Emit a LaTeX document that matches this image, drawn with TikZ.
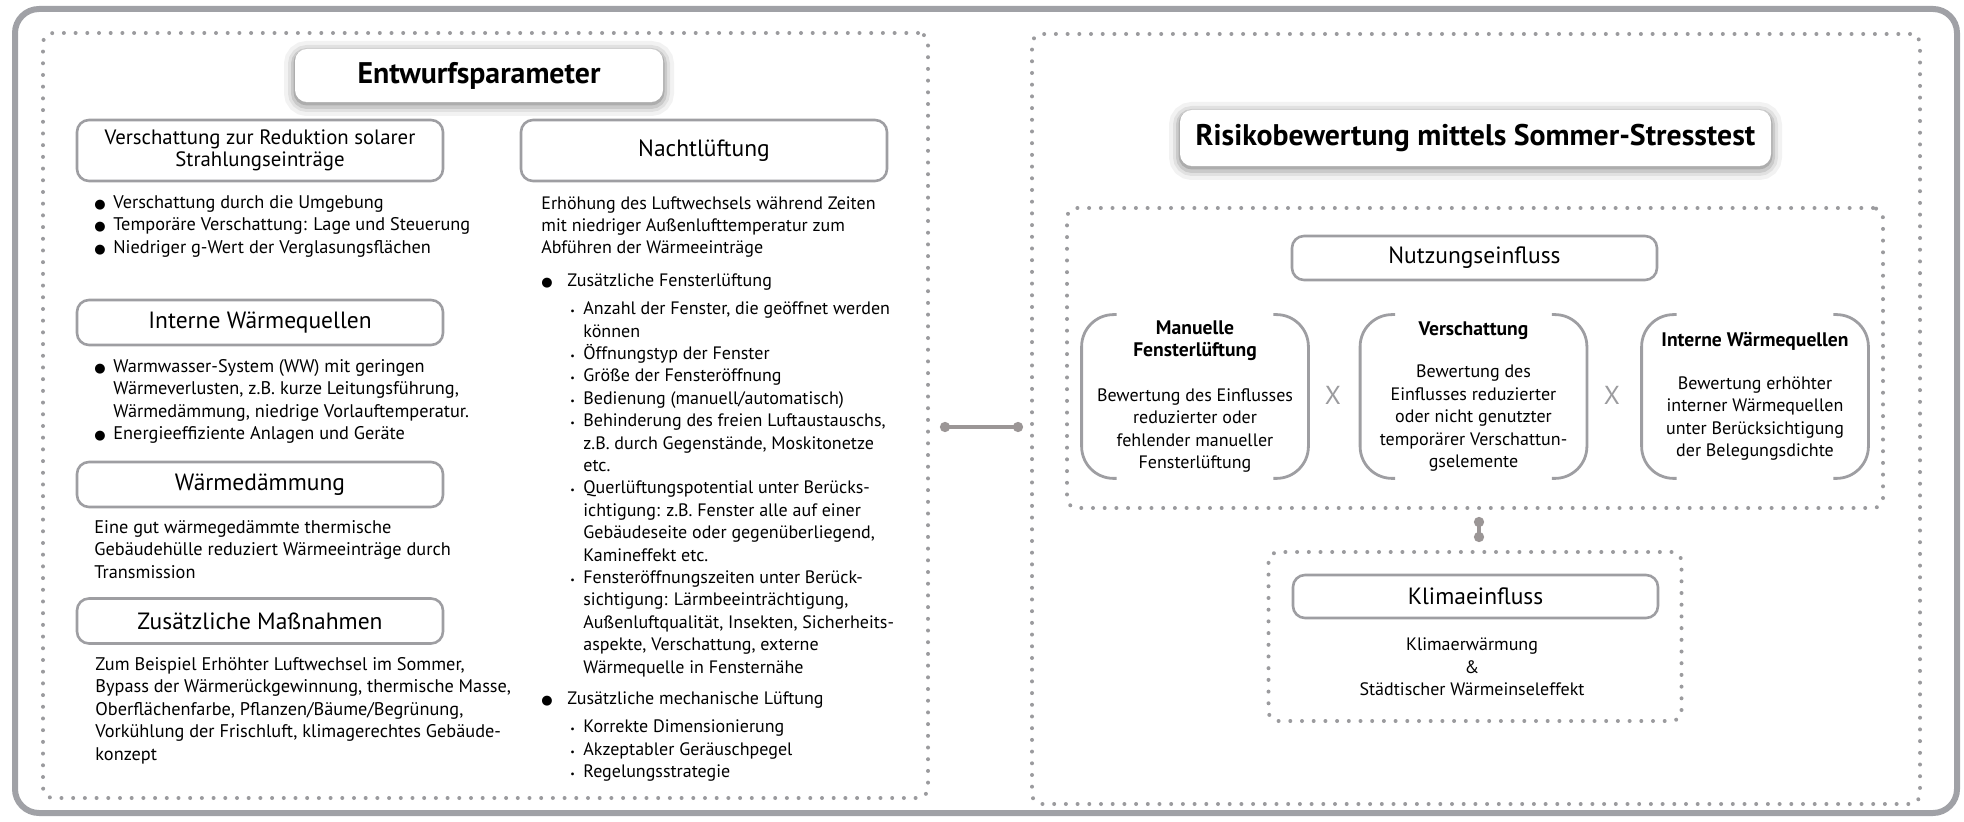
\documentclass[tikz,border=0pt]{standalone}
\usepackage{fontspec}
\setmainfont{PT Sans}
\newfontfamily\symfont{DejaVu Sans}
\usetikzlibrary{arrows.meta,positioning}

\definecolor{framegray}{RGB}{160,161,166}
\definecolor{boxgray}{RGB}{158,158,162}
\definecolor{dotgray}{RGB}{155,155,158}
\definecolor{linkgray}{RGB}{155,150,150}

\newcommand{\bul}[2]{\hspace*{#1}\makebox[#2][l]{{\symfont\fontsize{6.5}{0}\selectfont ●}}}
\newcommand{\sbul}{\hspace*{14.5pt}\makebox[6.5pt][l]{\fontsize{5}{0}\selectfont\textbullet}}
\newcommand{\cont}{\hspace*{21pt}}

\begin{document}
\begin{tikzpicture}[x=0.5pt,y=-0.5pt,
    frame/.style={draw=framegray,line width=3pt,rounded corners=12pt},
    dotbox/.style={draw=dotgray,line width=2pt,line cap=round,dash pattern=on 0pt off 5.85pt,
                   rounded corners=5pt,inner sep=0pt},
    head/.style={draw=boxgray,line width=1.3pt,rounded corners=6pt,fill=white,align=center,
                 inner sep=0pt,minimum width=183pt,minimum height=22.5pt,font=\fontsize{11.75}{14}\selectfont},
    softshadow/.style={preaction={draw=black,opacity=0.05,line width=11pt,transform canvas={yshift=-1.5pt}},
                       preaction={draw=black,opacity=0.07,line width=7pt,transform canvas={yshift=-1.5pt}},
                       preaction={draw=black,opacity=0.10,line width=4pt,transform canvas={yshift=-1.5pt}},
                       preaction={draw=black,opacity=0.14,line width=1.5pt,transform canvas={yshift=-1pt}}},
    title/.style={fill=white,rounded corners=6pt,inner sep=0pt,softshadow,
                  font=\bfseries\fontsize{14.9}{17}\selectfont},
    txt/.style={anchor=north west,inner sep=0pt,align=left,font=\fontsize{9}{11.2}\selectfont},
    ltxt/.style={txt,font=\fontsize{9.15}{11.2}\selectfont},
    group/.style={inner sep=0pt,align=center,minimum width=113pt,minimum height=81.5pt,
                  font=\fontsize{9}{11.2}\selectfont},
    brack/.style={draw=boxgray,line width=1.4pt,rounded corners=16pt},
    times/.style={text=dotgray,font=\fontsize{13}{15}\selectfont},
    link/.style={draw=linkgray,line width=2pt,{Circle[length=5pt]}-{Circle[length=5pt]}}
  ]
  \useasboundingbox (0,0) rectangle (1964,822);
  \draw[frame] (15,9) rectangle (1957,813);

  % Entwurfsparameter
  \node[dotbox,minimum width=442.5pt,minimum height=382.5pt] (dLeft) at (485.5,415.5) {};
  \node[title,minimum width=184pt,minimum height=26.5pt] (tEnt) at (479,75.5) {Entwurfsparameter};

  \node[head,minimum height=30.5pt,font=\fontsize{10.4}{11}\selectfont] (hVer) at (260,150.5)
    {Verschattung zur Reduktion solarer\\Strahlungseinträge};
  \node[ltxt] (tVer) at (89,195) {\bul{2.5pt}{9.5pt}Verschattung durch die Umgebung\\
    \bul{2.5pt}{9.5pt}Temporäre Verschattung: Lage und Steuerung\\
    \bul{2.5pt}{9.5pt}Niedriger g-Wert der Verglasungsflächen};

  \node[head] (hInt) at (260,322.5) {Interne Wärmequellen};
  \node[ltxt] (tInt) at (89,359) {\bul{2.5pt}{9.5pt}Warmwasser-System (WW) mit geringen\\
    \hspace*{12pt}Wärmeverlusten, z.B. kurze Leitungsführung,\\
    \hspace*{12pt}Wärmedämmung, niedrige Vorlauftemperatur.\\
    \bul{2.5pt}{9.5pt}Energieeffiziente Anlagen und Geräte};

  \node[head] (hDae) at (260,484.5) {Wärmedämmung};
  \node[ltxt] (tDae) at (94,520) {Eine gut wärmegedämmte thermische\\
    Gebäudehülle reduziert Wärmeeinträge durch\\Transmission};

  \node[head] (hZus) at (260,621) {Zusätzliche Maßnahmen};
  \node[ltxt] (tZus) at (95,657) {Zum Beispiel Erhöhter Luftwechsel im Sommer,\\
    Bypass der Wärmerückgewinnung, thermische Masse,\\
    Oberflächenfarbe, Pflanzen/Bäume/Begrünung,\\
    Vorkühlung der Frischluft, klimagerechtes Gebäude-\\konzept};

  \node[head,minimum height=30.5pt] (hNacht) at (704,150.5) {Nachtlüftung};
  \node[txt] (tNacht) at (541,196) {Erhöhung des Luftwechsels während Zeiten\\
    mit niedriger Außenlufttemperatur zum\\
    Abführen der Wärmeeinträge\\[5pt]
    \bul{0pt}{13pt}Zusätzliche Fensterlüftung\\[3pt]
    \sbul Anzahl der Fenster, die geöffnet werden\\
    \cont können\\
    \sbul Öffnungstyp der Fenster\\
    \sbul Größe der Fensteröffnung\\
    \sbul Bedienung (manuell/automatisch)\\
    \sbul Behinderung des freien Luftaustauschs,\\
    \cont z.B. durch Gegenstände, Moskitonetze\\
    \cont etc.\\
    \sbul Querlüftungspotential unter Berücks-\\
    \cont ichtigung: z.B. Fenster alle auf einer\\
    \cont Gebäudeseite oder gegenüberliegend,\\
    \cont Kamineffekt etc.\\
    \sbul Fensteröffnungszeiten unter Berück-\\
    \cont sichtigung: Lärmbeeinträchtigung,\\
    \cont Außenluftqualität, Insekten, Sicherheits-\\
    \cont aspekte, Verschattung, externe\\
    \cont Wärmequelle in Fensternähe\\[4.5pt]
    \bul{0pt}{13pt}Zusätzliche mechanische Lüftung\\[3pt]
    \sbul Korrekte Dimensionierung\\
    \sbul Akzeptabler Geräuschpegel\\
    \sbul Regelungsstrategie};

  % Risikobewertung
  \node[dotbox,minimum width=444pt,minimum height=385pt] (dRight) at (1476,419) {};
  \node[title,minimum width=295.5pt,minimum height=28pt] (tRisk) at (1475.5,138)
    {Risikobewertung mittels Sommer-Stresstest};

  \node[dotbox,minimum width=408pt,minimum height=150pt] (dNutz) at (1475,358) {};
  \node[head,minimum width=182.5pt,minimum height=22pt] (hNutz) at (1474.5,258) {Nutzungseinfluss};
  \node[group] (gMan) at (1195,396.5) {\textbf{\fontsize{9.8}{11.2}\selectfont Manuelle}\\
    \textbf{\fontsize{9.8}{11.2}\selectfont Fensterlüftung}\\[11pt]
    Bewertung des Einflusses\\reduzierter oder\\fehlender manueller\\Fensterlüftung};
  \node[group] (gVer) at (1473.5,396.5) {\textbf{\fontsize{9.8}{11.2}\selectfont Verschattung}\\[10pt]
    Bewertung des\\Einflusses reduzierter\\oder nicht genutzter\\temporärer Verschattun-\\gselemente};
  \node[group] (gInt) at (1755,396.5) {\textbf{\fontsize{9.8}{11.2}\selectfont Interne Wärmequellen}\\[10pt]
    Bewertung erhöhter\\interner Wärmequellen\\unter Berücksichtigung\\der Belegungsdichte};
  \node[times] (x1) at (1333,395) {X};
  \node[times] (x2) at (1612,395) {X};
  \foreach \g in {gMan,gVer,gInt}{
    \draw[brack] ([xshift=17.5pt]\g.north west) -- (\g.north west) -- (\g.south west) -- ([xshift=17.5pt]\g.south west);
    \draw[brack] ([xshift=-17.5pt]\g.north east) -- (\g.north east) -- (\g.south east) -- ([xshift=-17.5pt]\g.south east);
  }

  \node[dotbox,minimum width=206.5pt,minimum height=84.5pt] (dKlima) at (1475,636.5) {};
  \node[head,minimum width=182.5pt,minimum height=21.5pt] (hKlima) at (1475.5,596.5) {Klimaeinfluss};
  \node[align=center,inner sep=0pt,font=\fontsize{9}{11.2}\selectfont] (tKlima) at (1472,667)
    {Klimaerwärmung\\\&\\Städtischer Wärmeinseleffekt};

  \draw[link] ([xshift=5pt,yshift=-5.75pt]dLeft.east) -- ++(41.5pt,0);
  \draw[link] ([xshift=2pt,yshift=-3.5pt]dNutz.south) -- ([xshift=2pt,yshift=4pt]dKlima.north);
\end{tikzpicture}
\end{document}
